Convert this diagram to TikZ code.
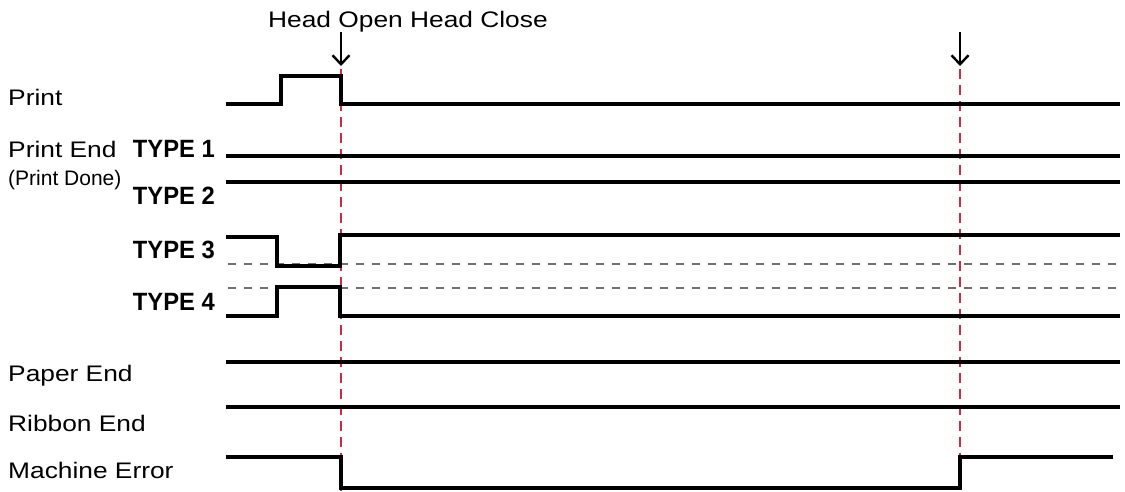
\documentclass[tikz,border=0pt]{standalone}
\usepackage{fontspec}
\setmainfont[FakeStretch=1.17]{Liberation Sans}
\newfontfamily\donefont{Liberation Sans}
\newfontfamily\typefont[FakeStretch=0.95]{Liberation Sans Bold}
\usetikzlibrary{arrows.meta}
\definecolor{guidered}{RGB}{205,45,65}
\definecolor{refgrey}{RGB}{110,110,110}
\begin{document}
\begin{tikzpicture}[x=1pt,y=-1pt,
  sig/.style={line width=3.3pt, line join=miter},
  guideline/.style={guidered, line width=2.2pt, dash pattern=on 10pt off 6pt},
  refline/.style={refgrey, line width=1.4pt, dash pattern=on 8pt off 8pt},
  lbl/.style={anchor=base west, inner sep=0, font=\fontsize{22.5}{26}\selectfont},
  donelbl/.style={anchor=base west, inner sep=0, font=\donefont\fontsize{21}{25}\selectfont},
  typ/.style={anchor=base east, inner sep=0, font=\typefont\fontsize{25}{30}\selectfont},
  evt/.style={-{Straight Barb[length=9pt,width=17pt,line width=2.4pt]}, line width=2.4pt}]
\useasboundingbox (0,0) rectangle (1125,491);

% labels
\node[lbl] (head) at (268,27) {Head Open Head Close};
\node[lbl] (print) at (8,105) {Print};
\node[lbl] (pend) at (8,157) {Print End};
\node[donelbl] (done) at (8,185) {(Print Done)};
\node[typ] (t1) at (215,157) {TYPE 1};
\node[typ] (t2) at (215,204) {TYPE 2};
\node[typ] (t3) at (215,258) {TYPE 3};
\node[typ] (t4) at (215,310) {TYPE 4};
\node[lbl] (paper) at (8,381) {Paper End};
\node[lbl] (ribbon) at (8,431) {Ribbon End};
\node[lbl] (merr) at (8,478) {Machine Error};

% event guides
\coordinate (openTop) at (341,32);
\coordinate (openTip) at (341,66);
\coordinate (closeTop) at (960,32);
\coordinate (closeTip) at (960,66);
\draw[guideline] (341,69) -- (341,491);
\draw[guideline] (960,69) -- (960,458);
\draw[evt] (openTop) -- (openTip);
\draw[evt] (closeTop) -- (closeTip);

% reference dashed levels
\draw[refline] (228,264) -- (1120,264);
\draw[refline] (228,288) -- (1120,288);

% waveforms
\draw[sig] (226,104) -| (281,76) -| (341,104) -- (1120,104);
\draw[sig] (226,156) -- (1120,156);
\draw[sig] (226,182) -- (1120,182);
\draw[sig] (226,237) -| (277,266) -| (340,235) -- (1120,235);
\draw[sig] (226,316) -| (277,287) -| (340,316) -- (1120,316);
\draw[sig] (226,362) -- (1120,362);
\draw[sig] (226,407) -- (1120,407);
\draw[sig] (226,457) -| (341,488) -| (960,457) -- (1113,457);
\end{tikzpicture}
\end{document}
